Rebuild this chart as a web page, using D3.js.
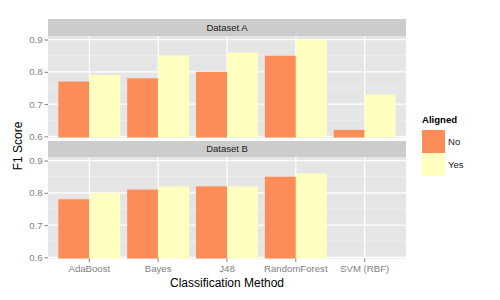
<!DOCTYPE html>
<html><head><meta charset="utf-8">
<script src="https://cdn.jsdelivr.net/npm/d3@7"></script>
<style>body{margin:0;background:#fff}svg{display:block;font-family:"Liberation Sans",Arial,sans-serif}</style>
</head><body><svg id="c" width="500" height="300"></svg>
<script>
const methods = ["AdaBoost","Bayes","J48","RandomForest","SVM (RBF)"];
const aligned = ["No","Yes"];
const datasets = ["Dataset A","Dataset B"];
const dataANo  = [0.77,0.78,0.80,0.85,0.62];
const dataAYes = [0.79,0.85,0.86,0.90,0.73];
const dataBNo  = [0.78,0.81,0.82,0.85,null];
const dataBYes = [0.80,0.82,0.82,0.86,null];
const yTicks = [0.6,0.7,0.8,0.9];
const yMinor = [0.65,0.75,0.85];
const colors = ["#FC8D59","#FFFFBF"];

const seriesByDataset = [[dataANo,dataAYes],[dataBNo,dataBYes]];
const svg = d3.select("#c");
const px0 = 48, px1 = 406;
const panels = [{strip:[19,36], plot:[36,137.5]},{strip:[141,157],plot:[157,258.5]}];

const x = d3.scaleBand().domain(methods).range([px0,px1]).paddingInner(0.1/0.9*0).padding(0);
// ggplot-style discrete: 0.6 unit expansion each side
const unit = (px1-px0)/(methods.length-1+1.2);
const xc = m => px0 + unit*(0.6 + methods.indexOf(m));
const barW = unit*0.45;

panels.forEach((p,i)=>{
  const g = svg.append("g");
  g.append("rect").attr("x",px0).attr("y",p.strip[0]).attr("width",px1-px0).attr("height",p.strip[1]-p.strip[0]).attr("fill","#CCCCCC");
  g.append("text").attr("x",(px0+px1)/2).attr("y",(p.strip[0]+p.strip[1])/2).attr("dy","0.35em")
    .attr("text-anchor","middle").attr("font-size",9.5).attr("fill","#1a1a1a").text(datasets[i]);
  g.append("rect").attr("x",px0).attr("y",p.plot[0]).attr("width",px1-px0).attr("height",p.plot[1]-p.plot[0]).attr("fill","#E5E5E5");
  const y = d3.scaleLinear().domain([0.5965,0.911]).range([p.plot[1],p.plot[0]]);
  g.selectAll(".mn").data(yMinor).enter().append("line").attr("x1",px0).attr("x2",px1)
    .attr("y1",d=>y(d)).attr("y2",d=>y(d)).attr("stroke","#F2F2F2").attr("stroke-width",0.8);
  g.selectAll(".mj").data(yTicks).enter().append("line").attr("x1",px0).attr("x2",px1)
    .attr("y1",d=>y(d)).attr("y2",d=>y(d)).attr("stroke","#fff").attr("stroke-width",1.2);
  g.selectAll(".vx").data(methods).enter().append("line").attr("y1",p.plot[0]).attr("y2",p.plot[1])
    .attr("x1",d=>xc(d)).attr("x2",d=>xc(d)).attr("stroke","#fff").attr("stroke-width",1.2);
  seriesByDataset[i].forEach((vals,s)=>{
    g.selectAll(".b"+s).data(methods.map((m,k)=>({m,v:vals[k]})).filter(d=>d.v!=null)).enter().append("rect")
      .attr("x",d=>xc(d.m)-barW+s*barW).attr("width",barW)
      .attr("y",d=>y(d.v)).attr("height",d=>p.plot[1]-y(d.v)).attr("fill",colors[s]);
  });
  const ax = g.append("g").attr("transform",`translate(${px0},0)`)
    .call(d3.axisLeft(y).tickValues(yTicks).tickFormat(d3.format(".1f")).tickSize(3.5).tickPadding(2));
  ax.select(".domain").remove();
  ax.selectAll("line").attr("stroke","#7F7F7F");
  ax.selectAll("text").attr("fill","#7F7F7F").attr("font-size",9.6).attr("font-family","Liberation Sans, Arial, sans-serif");
  if(i===1){
    const xa = g.append("g").attr("transform",`translate(0,${p.plot[1]})`);
    methods.forEach(m=>{
      xa.append("line").attr("x1",xc(m)).attr("x2",xc(m)).attr("y1",0).attr("y2",3.5).attr("stroke","#7F7F7F");
      xa.append("text").attr("x",xc(m)).attr("y",13.5).attr("text-anchor","middle").attr("font-size",9.6).attr("fill","#7F7F7F").text(m);
    });
  }
});

svg.append("text").attr("x",(px0+px1)/2).attr("y",287).attr("text-anchor","middle").attr("font-size",12).attr("fill","#000").text("Classification Method");
svg.append("text").attr("transform","translate(22,146) rotate(-90)").attr("text-anchor","middle").attr("font-size",12).attr("fill","#000").text("F1 Score");

const lg = svg.append("g");
lg.append("text").attr("x",422).attr("y",123).attr("font-size",9.6).attr("font-weight","bold").text("Aligned");
aligned.forEach((a,i)=>{
  lg.append("rect").attr("x",422).attr("y",130+i*23).attr("width",23).attr("height",23).attr("fill",colors[i]);
  lg.append("text").attr("x",448).attr("y",141.5+i*23).attr("dy","0.35em").attr("font-size",9.6).attr("fill","#1a1a1a").text(a);
});
</script></body></html>
